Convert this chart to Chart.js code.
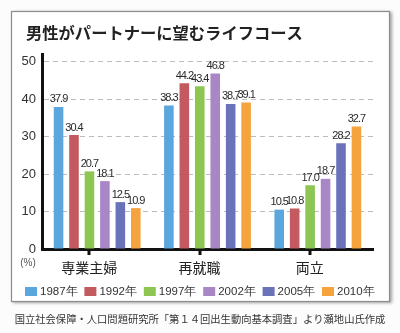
<!DOCTYPE html>
<html>
<head>
<meta charset="utf-8">
<script src="https://cdn.jsdelivr.net/npm/chart.js@4/dist/chart.umd.min.js"></script>
<style>
  html, body { margin: 0; padding: 0; background: #fff; }
  #wrap { width: 400px; height: 333px; }
</style>
</head>
<body>
<div id="wrap"><canvas id="chart" width="400" height="333"></canvas></div>
<script>
// data
var chartTitle = '男性がパートナーに望むライフコース';
var sourceNote = '国立社会保障・人口問題研究所「第１４回出生動向基本調査」より瀬地山氏作成';
var categories = ['専業主婦', '再就職', '両立'];
var years = ['1987年', '1992年', '1997年', '2002年', '2005年', '2010年'];
var v1987 = [37.9, 38.3, 10.5];
var v1992 = [30.4, 44.2, 10.8];
var v1997 = [20.7, 43.4, 17.0];
var v2002 = [18.1, 46.8, 18.7];
var v2005 = [12.5, 38.7, 28.2];
var v2010 = [10.9, 39.1, 32.7];
var yTicks = [0, 10, 20, 30, 40, 50];

var colors = ['#5ba6dd', '#c25a5f', '#8dc653', '#a987c6', '#6a72b9', '#f4a33d'];
var series = [v1987, v1992, v1997, v2002, v2005, v2010];
var JP = '"Noto Sans CJK JP", "Noto Sans", sans-serif';
var LAT = '"Liberation Sans", Arial, sans-serif';

var datasets = series.map(function (vals, i) {
    return {
        label: years[i],
        data: vals,
        backgroundColor: colors[i],
        borderWidth: 0
    };
});

// panel, title, legend, footer and value labels
var decorations = {
    id: 'decorations',
    beforeDraw: function (chart) {
        var ctx = chart.ctx;
        ctx.save();
        ctx.fillStyle = '#fcfcfc';
        ctx.fillRect(0, 0, chart.width, chart.height);
        ctx.shadowColor = 'rgba(0,0,0,0.35)';
        ctx.shadowBlur = 3;
        ctx.shadowOffsetX = 2;
        ctx.shadowOffsetY = 1;
        ctx.fillStyle = '#fff';
        ctx.fillRect(11, 11, 379, 291);
        ctx.restore();
        ctx.save();
        ctx.strokeStyle = '#8c8c8c';
        ctx.lineWidth = 1.2;
        ctx.strokeRect(11.5, 11.5, 378, 290);

        ctx.fillStyle = '#222';
        ctx.font = 'bold 16.3px ' + JP;
        ctx.textBaseline = 'middle';
        ctx.textAlign = 'left';
        ctx.fillText(chartTitle, 26, 33);

        // legend
        ctx.font = '11.5px ' + LAT;
        for (var i = 0; i < years.length; i++) {
            var x = 25 + i * 59.4;
            ctx.fillStyle = colors[i];
            ctx.fillRect(x, 287, 12, 9);
            ctx.fillStyle = '#333';
            ctx.fillText(years[i], x + 15, 291.5);
        }

        // source
        ctx.font = '10.3px ' + JP;
        ctx.textAlign = 'center';
        ctx.fillStyle = '#333';
        ctx.fillText(sourceNote, 200, 319);

        // unit
        ctx.font = '10px ' + LAT;
        ctx.fillStyle = '#555';
        ctx.fillText('(%)', 28, 263);
        ctx.restore();
    },
    afterDraw: function (chart) {
        var ctx = chart.ctx;
        var xs = chart.scales.x;
        ctx.save();
        // tick marks on x axis
        ctx.fillStyle = '#111';
        for (var c = 0; c < categories.length; c++) {
            var px = Math.round(xs.getPixelForValue(c)) - 8;
            ctx.fillRect(px - 1.5, chart.chartArea.bottom, 3, 6);
        }
        // value labels
        ctx.font = '11px ' + LAT;
        ctx.letterSpacing = '-1px';
        ctx.fillStyle = '#2a2a2a';
        ctx.textAlign = 'center';
        ctx.textBaseline = 'bottom';
        chart.data.datasets.forEach(function (ds, i) {
            var meta = chart.getDatasetMeta(i);
            meta.data.forEach(function (bar, j) {
                ctx.fillText(ds.data[j].toFixed(1), bar.x, bar.y - 2);
            });
        });
        ctx.restore();
    }
};

new Chart(document.getElementById('chart'), {
    type: 'bar',
    data: { labels: categories, datasets: datasets },
    options: {
        responsive: false,
        animation: false,
        devicePixelRatio: 1,
        barPercentage: 0.62,
        categoryPercentage: 0.84,
        layout: { padding: { left: 0, top: 54, right: 27, bottom: 0 } },
        plugins: {
            legend: { display: false },
            title: { display: false },
            tooltip: { enabled: false }
        },
        scales: {
            x: {
                afterFit: function (s) { s.height = 84; },
                grid: { display: false, drawTicks: false },
                border: { display: true, color: '#111', width: 3 },
                ticks: {
                    padding: 10,
                    labelOffset: -8,
                    color: '#222',
                    font: { family: JP, size: 14 }
                }
            },
            y: {
                min: 0,
                max: 52,
                afterFit: function (s) { s.width = 42; },
                afterBuildTicks: function (s) {
                    s.ticks = yTicks.map(function (v) { return { value: v }; });
                },
                grid: {
                    drawTicks: false,
                    color: function (c) { return c.tick && c.tick.value === 0 ? 'rgba(0,0,0,0)' : '#bdbdbd'; },
                    lineWidth: 1
                },
                border: { display: true, color: '#111', width: 3, dash: [5, 4] },
                ticks: {
                    padding: 6,
                    color: '#333',
                    font: { family: LAT, size: 13 }
                }
            }
        }
    },
    plugins: [decorations]
});
</script>
</body>
</html>
